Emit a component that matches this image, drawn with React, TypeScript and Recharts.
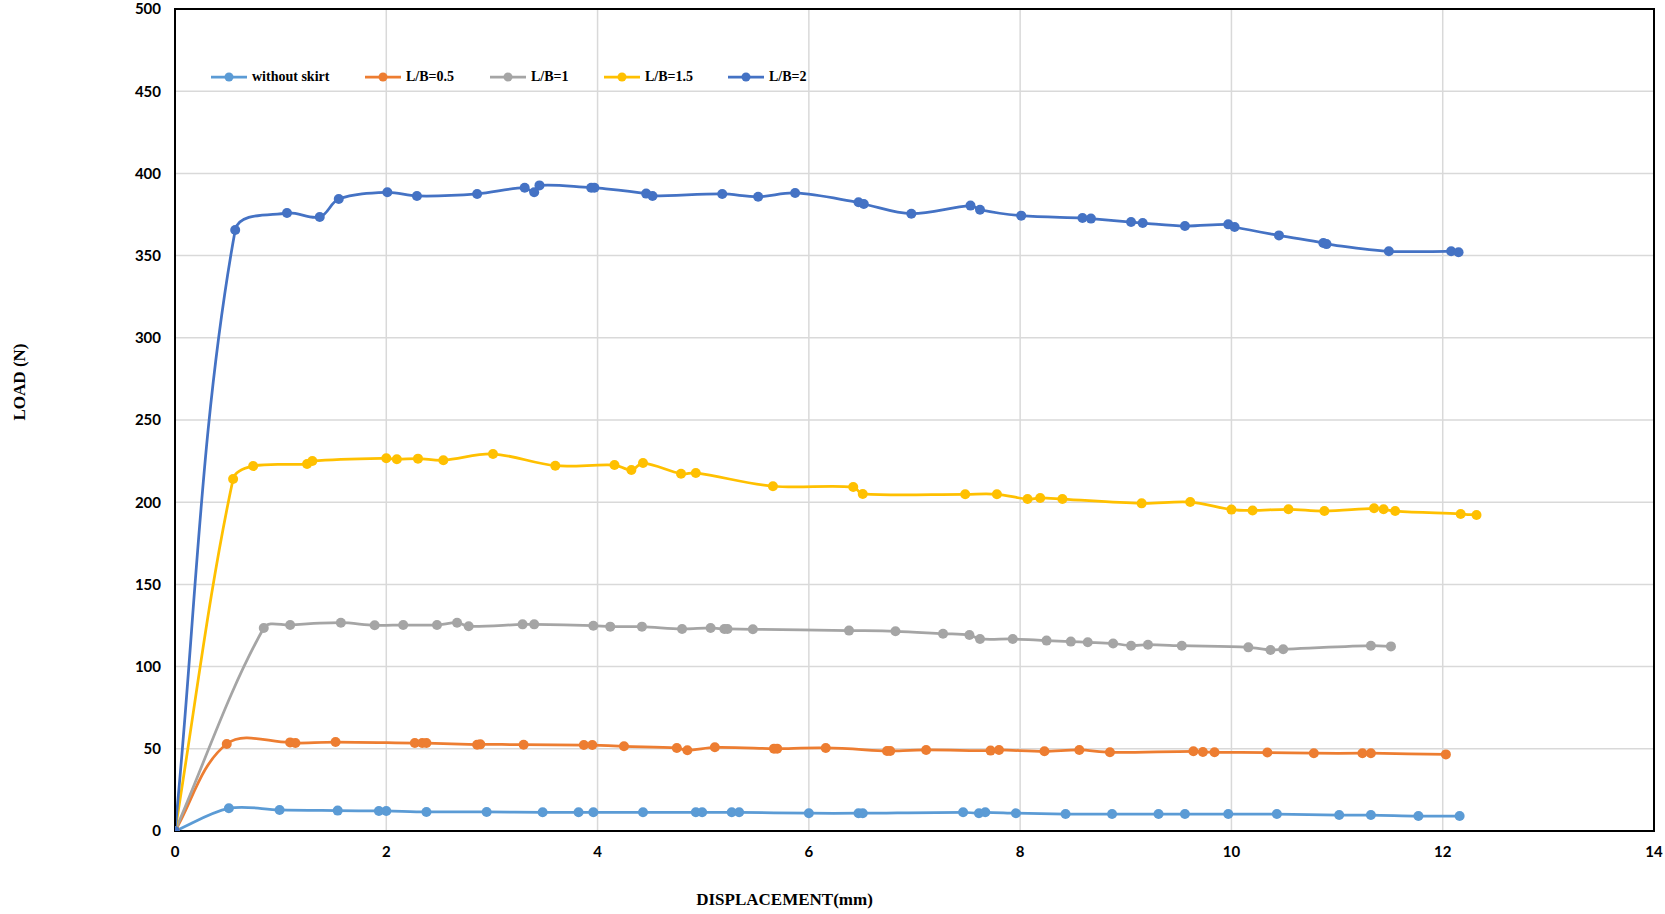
import {
  CartesianGrid,
  LineChart,
  Line,
  ReferenceArea,
  XAxis,
  YAxis,
} from "recharts";

type Pt = [number, number]; // [displacement mm, load N]

const xTicks = [0, 2, 4, 6, 8, 10, 12, 14];
const yTicks = [0, 50, 100, 150, 200, 250, 300, 350, 400, 450, 500];

const withoutSkirt: Pt[] = [
  [0, 0], [0.51, 13.8], [0.99, 12.8], [1.54, 12.4], [1.93, 12.2], [2.0, 12.2],
  [2.38, 11.6], [2.95, 11.6], [3.48, 11.4], [3.82, 11.4], [3.96, 11.4], [4.43, 11.4],
  [4.93, 11.4], [4.99, 11.4], [5.27, 11.4], [5.34, 11.4], [6.0, 10.8], [6.47, 10.8],
  [6.51, 10.8], [7.46, 11.4], [7.61, 10.8], [7.67, 11.4], [7.96, 10.8], [8.43, 10.3],
  [8.87, 10.3], [9.31, 10.3], [9.56, 10.3], [9.97, 10.3], [10.43, 10.3], [11.02, 9.7],
  [11.32, 9.7], [11.77, 9.1], [12.16, 9.1],
];

const lb05: Pt[] = [
  [0, 0], [0.49, 52.9], [1.09, 53.9], [1.14, 53.5], [1.52, 54.1], [2.27, 53.5],
  [2.34, 53.5], [2.38, 53.5], [2.86, 52.5], [2.89, 52.7], [3.3, 52.5], [3.87, 52.3],
  [3.95, 52.3], [4.25, 51.5], [4.75, 50.5], [4.85, 49.1], [5.11, 50.9], [5.67, 50.1],
  [5.7, 50.1], [6.16, 50.5], [6.74, 48.7], [6.77, 48.7], [7.11, 49.3], [7.72, 48.9],
  [7.8, 49.3], [8.23, 48.5], [8.56, 49.3], [8.85, 47.9], [9.64, 48.5], [9.73, 48.0],
  [9.84, 47.9], [10.34, 47.7], [10.78, 47.3], [11.24, 47.3], [11.32, 47.3], [12.03, 46.6],
];

const lb1: Pt[] = [
  [0, 0], [0.84, 123.5], [1.09, 125.3], [1.57, 126.7], [1.89, 125.1], [2.16, 125.3],
  [2.48, 125.3], [2.67, 126.7], [2.78, 124.5], [3.29, 125.7], [3.4, 125.7], [3.96, 124.9],
  [4.12, 124.3], [4.42, 124.3], [4.8, 122.9], [5.07, 123.5], [5.2, 122.9], [5.23, 122.9],
  [5.47, 122.7], [6.38, 121.9], [6.82, 121.5], [7.27, 120.0], [7.52, 119.2], [7.62, 116.8],
  [7.93, 116.8], [8.25, 115.8], [8.48, 115.2], [8.64, 114.8], [8.88, 114.1], [9.05, 112.7],
  [9.21, 113.3], [9.53, 112.7], [10.16, 111.7], [10.37, 110.1], [10.49, 110.5],
  [11.32, 112.7], [11.51, 112.3],
];

const lb15: Pt[] = [
  [0, 0], [0.55, 214.1], [0.74, 222.0], [1.25, 223.2], [1.3, 225.1], [2.0, 226.7],
  [2.1, 226.1], [2.3, 226.5], [2.54, 225.5], [3.01, 229.3], [3.6, 222.2], [4.16, 222.6],
  [4.32, 219.6], [4.43, 223.8], [4.79, 217.3], [4.93, 217.8], [5.66, 209.7], [6.42, 209.2],
  [6.51, 205.0], [7.48, 204.8], [7.78, 204.8], [8.07, 201.9], [8.19, 202.6], [8.4, 201.9],
  [9.15, 199.3], [9.61, 200.1], [10.0, 195.5], [10.2, 195.0], [10.54, 195.7], [10.88, 194.6],
  [11.35, 196.3], [11.44, 195.7], [11.55, 194.6], [12.17, 192.8], [12.32, 192.2],
];

const lb2: Pt[] = [
  [0, 0], [0.57, 365.6], [1.06, 375.9], [1.37, 373.5], [1.55, 384.4], [2.01, 388.5],
  [2.29, 386.3], [2.86, 387.5], [3.31, 391.3], [3.4, 388.5], [3.45, 392.7], [3.94, 391.3],
  [3.97, 391.3], [4.46, 387.7], [4.52, 386.3], [5.18, 387.5], [5.52, 385.8], [5.87, 388.1],
  [6.47, 382.4], [6.52, 381.4], [6.97, 375.5], [7.53, 380.4], [7.62, 377.9], [8.01, 374.3],
  [8.59, 372.9], [8.67, 372.5], [9.05, 370.4], [9.16, 369.8], [9.56, 368.0], [9.97, 369.0],
  [10.03, 367.4], [10.45, 362.3], [10.87, 357.7], [10.9, 357.0], [11.49, 352.6],
  [12.08, 352.6], [12.15, 352.0],
];

const series = [
  { name: "without skirt", color: "#5B9BD5", points: withoutSkirt },
  { name: "L/B=0.5", color: "#ED7D31", points: lb05 },
  { name: "L/B=1", color: "#A5A5A5", points: lb1 },
  { name: "L/B=1.5", color: "#FFC000", points: lb15 },
  { name: "L/B=2", color: "#4472C4", points: lb2 },
];

// spreadsheet-style smoothing: bezier through each point, tangent along the
// neighbour chord, handles scaled by the length of the segment they sit on
const HANDLE = 0.33;
function smoothCurve(context: any) {
  let pts: number[][] = [];
  return {
    areaStart() {},
    areaEnd() {},
    lineStart() {
      pts = [];
    },
    point(x: number, y: number) {
      pts.push([+x, +y]);
    },
    lineEnd() {
      const n = pts.length;
      if (!n) return;
      context.moveTo(pts[0][0], pts[0][1]);
      const dir = (i: number) => {
        const a = pts[Math.max(i - 1, 0)];
        const b = pts[Math.min(i + 1, n - 1)];
        const dx = b[0] - a[0];
        const dy = b[1] - a[1];
        const len = Math.hypot(dx, dy) || 1;
        return [dx / len, dy / len];
      };
      for (let i = 0; i < n - 1; i++) {
        const p = pts[i];
        const q = pts[i + 1];
        const h = Math.hypot(q[0] - p[0], q[1] - p[1]) * HANDLE;
        const d0 = dir(i);
        const d1 = dir(i + 1);
        context.bezierCurveTo(
          p[0] + d0[0] * h, p[1] + d0[1] * h,
          q[0] - d1[0] * h, q[1] - d1[1] * h,
          q[0], q[1]
        );
      }
    },
  };
}

const tickStyle = { fill: "#000", fontSize: 15, fontWeight: 700, fontFamily: "Lato" };
const titleFont = "'Liberation Serif', 'Times New Roman', serif";

const yTitle = ({ viewBox }: any) => {
  const vb = viewBox || { x: 0, y: 9, width: 175, height: 822 };
  const x = vb.x + 19;
  const y = vb.y + vb.height / 2 - 38;
  return (
    <text
      x={x}
      y={y}
      transform={`rotate(-90, ${x}, ${y})`}
      textAnchor="middle"
      dominantBaseline="central"
      fontFamily={titleFont}
      fontWeight={700}
      fontSize={17}
      fill="#000"
    >
      LOAD (N)
    </text>
  );
};

const xTitle = ({ viewBox }: any) => {
  const vb = viewBox || { x: 175, y: 831, width: 1479, height: 83 };
  return (
    <text
      x={vb.x + vb.width / 2 - 130}
      y={vb.y + 68}
      textAnchor="middle"
      dominantBaseline="central"
      fontFamily={titleFont}
      fontWeight={700}
      fontSize={17}
      fill="#000"
    >
      DISPLACEMENT(mm)
    </text>
  );
};

const legendLeft = [211, 365, 490, 604, 728];

export default function App() {
  return (
    <div
      style={{
        position: "absolute",
        left: 0,
        top: 0,
        width: 1665,
        height: 914,
        background: "#fff",
      }}
    >
      <LineChart width={1665} height={914} margin={{ top: 9, right: 11, bottom: 0, left: 0 }}>
        <CartesianGrid stroke="#d9d9d9" strokeWidth={1.5} />
        <XAxis
          type="number"
          dataKey="x"
          domain={[0, 14]}
          ticks={xTicks}
          allowDataOverflow
          height={83}
          axisLine={{ stroke: "#000", strokeWidth: 2 }}
          tickLine={false}
          tickSize={0}
          tickMargin={15}
          tick={tickStyle}
          label={{ content: xTitle }}
        />
        <YAxis
          type="number"
          dataKey="y"
          domain={[0, 500]}
          ticks={yTicks}
          allowDataOverflow
          width={175}
          axisLine={{ stroke: "#000", strokeWidth: 2 }}
          tickLine={false}
          tickSize={0}
          tickMargin={14}
          tick={tickStyle}
          label={{ content: yTitle }}
        />
        <ReferenceArea x1={0} x2={14} y1={0} y2={500} fill="none" stroke="#000" strokeWidth={2} />
        {series.map((s) => (
          <Line
            key={s.name}
            name={s.name}
            data={s.points.map(([x, y]) => ({ x, y }))}
            dataKey="y"
            type={smoothCurve as any}
            stroke={s.color}
            strokeWidth={2.75}
            dot={{ r: 5, fill: s.color, stroke: s.color, strokeWidth: 0 }}
            activeDot={false}
            isAnimationActive={false}
          />
        ))}
      </LineChart>
      {series.map((s, i) => (
        <div
          key={s.name}
          style={{
            position: "absolute",
            left: legendLeft[i],
            top: 68,
            height: 18,
            display: "flex",
            alignItems: "center",
            whiteSpace: "nowrap",
          }}
        >
          <svg width={36} height={12} style={{ display: "block" }}>
            <line x1={0} y1={6} x2={36} y2={6} stroke={s.color} strokeWidth={2.75} />
            <circle cx={18} cy={6} r={4.5} fill={s.color} />
          </svg>
          <span
            style={{
              marginLeft: 5,
              fontFamily: titleFont,
              fontWeight: 700,
              fontSize: 14,
              color: "#000",
            }}
          >
            {s.name}
          </span>
        </div>
      ))}
    </div>
  );
}
